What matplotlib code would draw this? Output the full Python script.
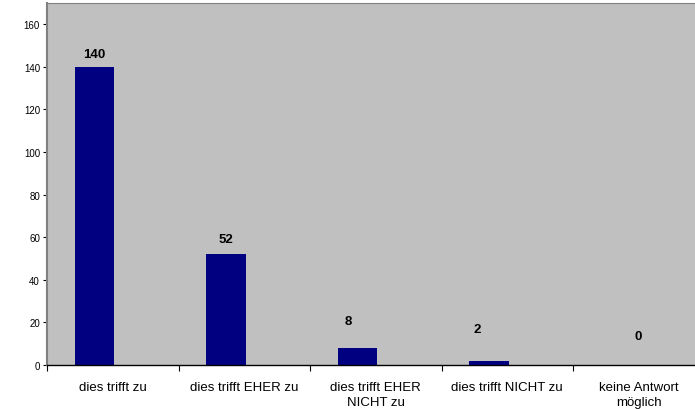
import numpy as np
import matplotlib
matplotlib.use("Agg")
import matplotlib.pyplot as plt
from matplotlib.ticker import FixedLocator

categories = ["dies trifft zu", "dies trifft EHER zu", "dies trifft EHER\nNICHT zu",
              "dies trifft NICHT zu", "keine Antwort\nmöglich"]
counts = [140, 52, 8, 2, 0]

# label placement (pixels), mimicking the excel layout
label_dx = [0, 0, -9, -12, 18]
label_dy = [13, 15, 27, 32, 29]

plt.rcParams['font.family'] = ['Liberation Sans', 'DejaVu Sans']

fig = plt.figure(figsize=(6.95, 4.10), dpi=100)
ax = fig.add_axes([47 / 695, 44 / 410, 657.5 / 695, 362 / 410])
ax.set_facecolor("#c0c0c0")

x = np.arange(len(counts))
ax.bar(x - 0.14, counts, width=0.30, color="#000080", zorder=2)

for i, v in enumerate(counts):
    ax.annotate(str(v), xy=(i - 0.14, v), xytext=(label_dx[i], label_dy[i]),
                textcoords="offset pixels", ha="center", va="center",
                fontsize=9.5, fontweight="bold")

ax.set_xlim(-0.5, len(counts) - 0.5)
ax.set_ylim(0, 170)
ax.set_yticks(range(0, 161, 20))
ax.tick_params(axis="y", labelsize=7, length=3, direction="out", width=0.8, pad=2)

ax.set_xticks(x)
ax.set_xticklabels(categories, fontsize=9.5, linespacing=1.3)
ax.tick_params(axis="x", which="major", length=0, pad=11.5)
ax.xaxis.set_minor_locator(FixedLocator(np.arange(-0.5, len(counts), 1.0)))
ax.tick_params(axis="x", which="minor", length=4, direction="out", width=0.8)

ax.spines["left"].set_color("#808080")
ax.spines["left"].set_linewidth(1.5)
ax.spines["top"].set_color("#808080")
ax.spines["right"].set_visible(False)
ax.spines["bottom"].set_color("black")
ax.spines["bottom"].set_linewidth(1.0)

fig.savefig("out.png", dpi=100)
